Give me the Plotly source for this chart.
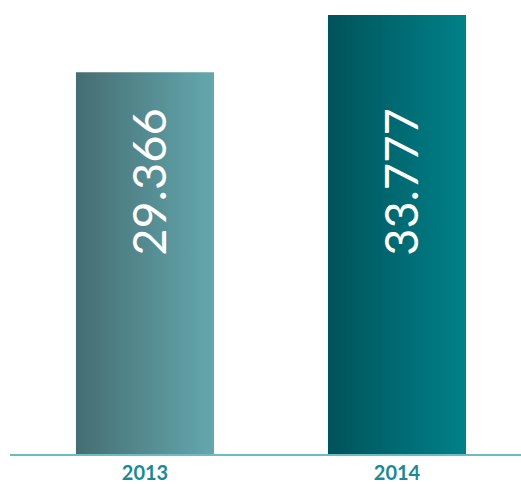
import plotly.graph_objects as go

categories = ["2013", "2014"]
values = [29.366, 33.777]
labels = ["29.366", "33.777"]
grad_left = ["#456d72", "#01525a"]
grad_right = ["#63a8ae", "#008189"]

bar_half = 0.274
fig = go.Figure()
for i, (cat, v) in enumerate(zip(categories, values)):
    x0, x1 = i - bar_half, i + bar_half
    fig.add_trace(go.Scatter(
        x=[x0, x1, x1, x0, x0], y=[0, 0, v, v, 0],
        mode="lines", line=dict(width=0), fill="toself",
        fillgradient=dict(type="horizontal",
                          colorscale=[[0, grad_left[i]], [1, grad_right[i]]]),
        hoverinfo="skip", showlegend=False, name=cat,
    ))
    fig.add_annotation(x=i + 0.012, y=0.618, xref="x", yref="paper",
                       text=labels[i], textangle=-90, showarrow=False,
                       font=dict(family="Lato", size=47, color="white"))

fig.update_layout(
    width=521, height=484, margin=dict(l=10, r=0, t=15, b=30, autoexpand=False),
    plot_bgcolor="white", paper_bgcolor="white",
    xaxis=dict(range=[-0.5357, 1.492], tickvals=[0, 1], ticktext=categories,
               showgrid=False, zeroline=False, showline=True, automargin=False,
               linecolor="#6dbcc0", linewidth=2, ticks="", ticklabelstandoff=0,
               tickfont=dict(family="Lato", size=20, color="#1a8a94", weight="bold")),
    yaxis=dict(range=[0, max(values)], visible=False, showgrid=False),
)
fig.write_html("out.html")
